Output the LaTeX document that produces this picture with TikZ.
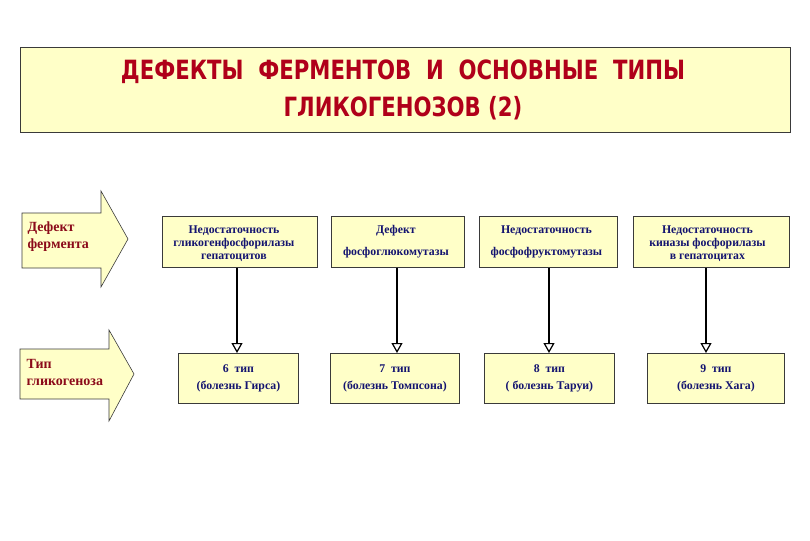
\documentclass[tikz,border=0pt]{standalone}
\usepackage{fontspec}
\setmainfont{Liberation Serif}
\newfontfamily\titlefont[FakeStretch=0.8]{DejaVu Sans}
\usetikzlibrary{arrows.meta}
\definecolor{paleY}{HTML}{FFFFC8}
\definecolor{titleRed}{HTML}{B0001A}
\definecolor{arrRed}{HTML}{8B0A1A}
\definecolor{navy}{HTML}{141470}
\definecolor{edge}{HTML}{3A3A3A}
\tikzset{
  titlebox/.style={draw=edge,line width=0.8pt,fill=paleY},
  bigarrow/.style={draw=edge,line width=0.6pt,fill=paleY},
  infobox/.style={draw=edge,line width=0.8pt,fill=paleY,anchor=north west,inner sep=0pt},
  boxtext/.style={font=\bfseries\fontsize{11.8}{13.2}\selectfont,text=navy,align=center},
  arrtext/.style={font=\bfseries\fontsize{14}{17}\selectfont,text=arrRed,align=left,anchor=west},
  titletext/.style={font=\titlefont\bfseries\fontsize{26.5}{36}\selectfont,text=titleRed,align=center},
  conn/.style={line width=2.8pt,-{Triangle[open,fill=white,width=11pt,length=10pt,line width=1.2pt]}}
}
\begin{document}
\begin{tikzpicture}[x=1pt,y=-1pt]
\useasboundingbox (0,0) rectangle (810,540);
% title
\draw[titlebox] (20,47) rectangle (790,132);
\node[titletext] (title) at (403,90) {ДЕФЕКТЫ\ \ ФЕРМЕНТОВ\ \ И\ \ ОСНОВНЫЕ\ \ ТИПЫ\\[1pt]ГЛИКОГЕНОЗОВ (2)};
% big arrows
\draw[bigarrow] (22,213) -- (101,213) -- (101,191) -- (128,239) -- (101,287) -- (101,268) -- (22,268) -- cycle;
\node[arrtext] (a1) at (24,237) {Дефект\\фермента};
\draw[bigarrow] (20,349) -- (109,349) -- (109,330) -- (134,374) -- (109,421) -- (109,399) -- (20,399) -- cycle;
\node[arrtext] (a2) at (23,372) {Тип\\гликогеноза};
% top boxes
\node[infobox,minimum width=155pt,minimum height=51pt] (t1) at (162,216) {};
\node[boxtext] at ([xshift=-6pt,yshift=-1.5pt]t1.center) {Недостаточность\\гликогенфосфорилазы\\гепатоцитов};
\node[infobox,minimum width=133pt,minimum height=51pt] (t2) at (331,216) {};
\node[boxtext,font=\bfseries\fontsize{11.8}{22}\selectfont] at ([xshift=-2pt]t2.center) {Дефект\\фосфоглюкомутазы};
\node[infobox,minimum width=138pt,minimum height=51pt] (t3) at (479,216) {};
\node[boxtext,font=\bfseries\fontsize{11.8}{22}\selectfont] at ([xshift=-2pt]t3.center) {Недостаточность\\фосфофруктомутазы};
\node[infobox,minimum width=156pt,minimum height=51pt] (t4) at (633,216) {};
\node[boxtext] at ([xshift=-4pt,yshift=-1.5pt]t4.center) {Недостаточность\\киназы фосфорилазы\\в гепатоцитах};
% bottom boxes
\node[infobox,minimum width=120pt,minimum height=50pt] (b1) at (178,353) {};
\node[boxtext,font=\bfseries\fontsize{11.8}{17}\selectfont] at (b1.center) {6\ \ тип\\(болезнь Гирса)};
\node[infobox,minimum width=129pt,minimum height=50pt] (b2) at (330,353) {};
\node[boxtext,font=\bfseries\fontsize{11.8}{17}\selectfont] at (b2.center) {7\ \ тип\\(болезнь Томпсона)};
\node[infobox,minimum width=130pt,minimum height=50pt] (b3) at (484,353) {};
\node[boxtext,font=\bfseries\fontsize{11.8}{17}\selectfont] at (b3.center) {8\ \ тип\\( болезнь Таруи)};
\node[infobox,minimum width=137pt,minimum height=50pt] (b4) at (647,353) {};
\node[boxtext,font=\bfseries\fontsize{11.8}{17}\selectfont] at (b4.center) {9\ \ тип\\(болезнь Хага)};
% connectors
\draw[conn] (t1.south -| 237,0) -- (b1.north -| 237,0);
\draw[conn] (t2.south -| 397,0) -- (b2.north -| 397,0);
\draw[conn] (t3.south -| 549,0) -- (b3.north -| 549,0);
\draw[conn] (t4.south -| 706,0) -- (b4.north -| 706,0);
\end{tikzpicture}
\end{document}
